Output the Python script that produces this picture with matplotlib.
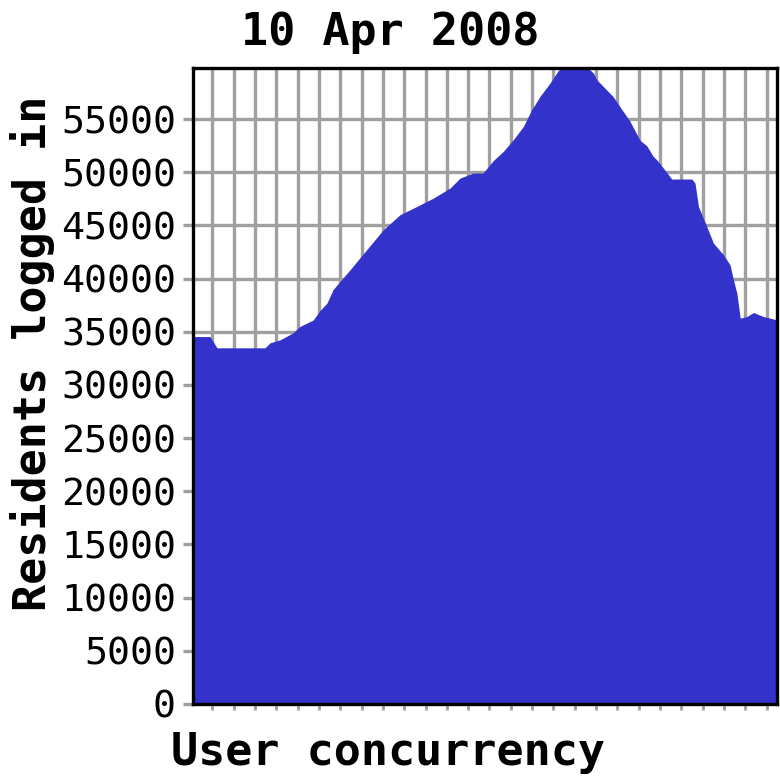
import matplotlib
matplotlib.use('Agg')
import matplotlib.pyplot as plt
import numpy as np

# samples (x in grid units, one grid line per unit)
x = [-0.89, -0.11, 0.22, 2.47, 2.71, 3.18, 3.79, 4.11, 4.73, 5.05, 5.38, 5.66,
     6.46, 7.24, 8.02, 8.80, 9.59, 10.37, 11.15, 11.62, 12.23, 12.70, 13.18,
     13.65, 14.12, 14.59, 14.98, 15.37, 15.84, 16.15, 16.31, 17.62, 17.87,
     18.03, 18.79, 19.59, 20.06, 20.37, 20.68, 20.84, 21.15, 21.55, 22.49,
     22.64, 22.80, 23.19, 23.50, 23.97, 24.28, 24.44, 24.60, 24.76, 25.07,
     25.38, 25.85, 26.47]
residents = [34550, 34550, 33490, 33490, 33960, 34240, 34900, 35500, 36100,
             37000, 37700, 38950, 40830, 42710, 44590, 46000, 46780, 47570,
             48510, 49450, 49920, 49920, 51100, 51960, 53060, 54310, 55880,
             57130, 58390, 59330, 59800, 59800, 59330, 58700, 57130, 54780,
             53000, 52500, 51490, 51180, 50400, 49360, 49360, 48980, 46780,
             44900, 43340, 42240, 41300, 39890, 38640, 36280, 36430, 36810,
             36430, 36120]
yticks = list(range(0, 60000, 5000))
grid_x = list(range(0, 27))

fig = plt.figure(figsize=(7.8, 7.8), dpi=100)
ax = fig.add_axes([193.3/780, 1-704/780, (776.7-193.3)/780, (704-68)/780])

ax.fill_between(x, residents, 0, color='#3333cc', lw=0, zorder=2)

ax.set_xlim(-0.89, 26.47)
ax.set_ylim(0, max(residents))
ax.set_xticks(grid_x)
ax.set_yticks(yticks)
ax.set_xticklabels([])
ax.set_yticklabels([str(v) for v in yticks], family='DejaVu Sans Mono', fontsize=27.5)

ax.grid(True, color='#a0a0a0', lw=2.4, zorder=1)
ax.set_axisbelow(True)
ax.tick_params(axis='y', length=7.5, width=2.4, color='#a0a0a0', pad=5)
ax.tick_params(axis='x', length=4, width=2, color='#a0a0a0')
for s in ax.spines.values():
    s.set_linewidth(2.4)
    s.set_color('black')
    s.set_zorder(3)

bold = dict(family='DejaVu Sans Mono', fontweight='bold', fontsize=32.5)
fig.text(390/780, 1-33/780, '10 Apr 2008', ha='center', va='center', **bold)
fig.text(388/780, 1-752/780, 'User concurrency', ha='center', va='center', **bold)
fig.text(33/780, 1-353/780, 'Residents logged in', ha='center', va='center',
         rotation=90, **bold)

fig.savefig('out.png', dpi=100)
